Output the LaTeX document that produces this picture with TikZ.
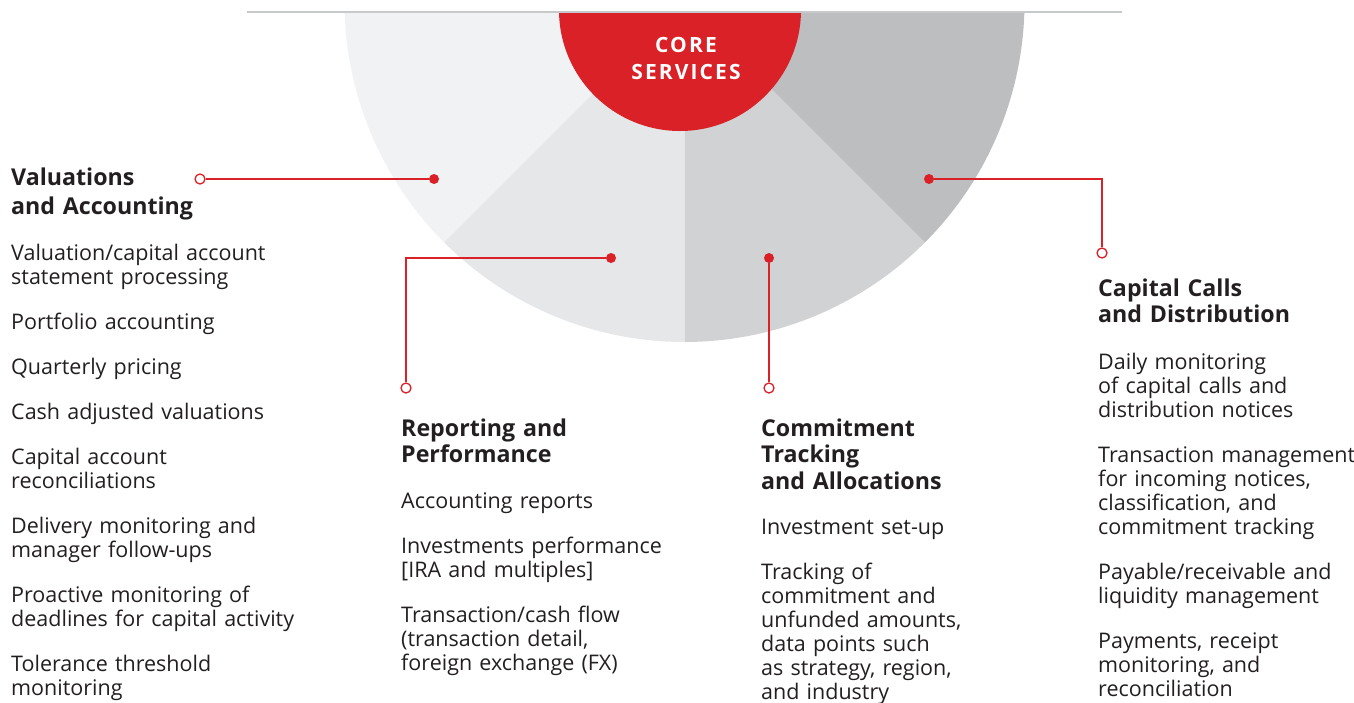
\documentclass[tikz,border=0pt]{standalone}
\usepackage{fontspec}
\setmainfont{Open Sans}
\newfontfamily\corefont{Open Sans}[LetterSpace=10]
\usetikzlibrary{calc}
\definecolor{cred}{HTML}{DA2128}
\definecolor{sa}{HTML}{F1F2F3}
\definecolor{sb}{HTML}{E6E7E8}
\definecolor{sc}{HTML}{D1D2D4}
\definecolor{sd}{HTML}{BCBEC0}
\definecolor{rule}{HTML}{C8C9CB}
\definecolor{txt}{HTML}{231F20}
\newcommand\pgap{\\[21pt]}
\tikzset{
  body/.style={anchor=base west, inner sep=0pt, align=left, text width=300pt,
    font=\fontsize{21.5}{24}\selectfont, text=txt},
  head/.style={anchor=base west, inner sep=0pt, align=left, text width=300pt,
    font=\bfseries\fontsize{23.2}{26.5}\selectfont, text=txt},
  dotf/.style={circle, fill=cred, inner sep=0pt, minimum size=10pt},
  doto/.style={circle, draw=cred, fill=white, line width=1.3pt, inner sep=0pt, minimum size=10pt},
  conn/.style={draw=cred, line width=1.3pt}
}
\begin{document}
\begin{tikzpicture}[x=1pt,y=-1pt]
\useasboundingbox (0,0) rectangle (1354,702);
\begin{scope}
\clip (0,12) rectangle (1354,702);
\coordinate (C) at (684.5,2);
\fill[sa] (C) -- ($(C)+(180:340)$) arc[start angle=180,end angle=135,radius=340] -- cycle;
\fill[sb] (C) -- ($(C)+(135:340)$) arc[start angle=135,end angle=90,radius=340] -- cycle;
\fill[sc] (C) -- ($(C)+(90:340)$) arc[start angle=90,end angle=45,radius=340] -- cycle;
\fill[sd] (C) -- ($(C)+(45:340)$) arc[start angle=45,end angle=0,radius=340] -- cycle;
\fill[cred] (680,10) circle[radius=121];
\end{scope}
\draw[rule, line width=2pt] (247,12) -- (1122,12);

\node[anchor=base, inner sep=0pt, text=white, font=\corefont\bfseries\fontsize{21}{27}\selectfont, align=center] (core) at (686,79.5) {CORE\\SERVICES};

% connectors
\node[dotf] (d1) at (434,179) {};
\node[doto] (o1) at (200,179) {};
\node[dotf] (d2) at (611,258) {};
\node[doto] (o2) at (406,388) {};
\node[dotf] (d3) at (769,258) {};
\node[doto] (o3) at (769,388) {};
\node[dotf] (d4) at (929,179) {};
\node[doto] (o4) at (1102,253) {};
\draw[conn] (d1) -- (o1);
\draw[conn] (d2) -| (o2);
\draw[conn] (d3) -- (o3);
\draw[conn] (d4) -| (o4);

% column 1
\node[head, font=\bfseries\fontsize{23.2}{29}\selectfont] (h1) at (11,185) {Valuations\\and Accounting};
\node[body] (b1) at (11,260) {Valuation/capital account\\statement processing\pgap
Portfolio accounting\pgap
Quarterly pricing\pgap
Cash adjusted valuations\pgap
Capital account\\reconciliations\pgap
Delivery monitoring and\\manager follow-ups\pgap
Proactive monitoring of\\deadlines for capital activity\pgap
Tolerance threshold\\monitoring};

% column 2
\node[head] (h2) at (401,436) {Reporting and\\Performance};
\node[body] (b2) at (401,508) {Accounting reports\pgap
Investments performance\\{[IRA} and multiples]\pgap
Transaction/cash flow\\(transaction detail,\\foreign exchange (FX)};

% column 3
\node[head] (h3) at (761,436) {Commitment\\Tracking\\and Allocations};
\node[body] (b3) at (761,534) {Investment set-up\pgap
Tracking of\\commitment and\\unfunded amounts,\\data points such\\as strategy, region,\\and industry};

% column 4
\node[head] (h4) at (1098,296) {Capital Calls\\and Distribution};
\node[body] (b4) at (1098,369) {Daily monitoring\\of capital calls and\\distribution notices\pgap
Transaction management\\for incoming notices,\\classification, and\\commitment tracking\pgap
Payable/receivable and\\liquidity management\pgap
Payments, receipt\\monitoring, and\\reconciliation};
\end{tikzpicture}
\end{document}
